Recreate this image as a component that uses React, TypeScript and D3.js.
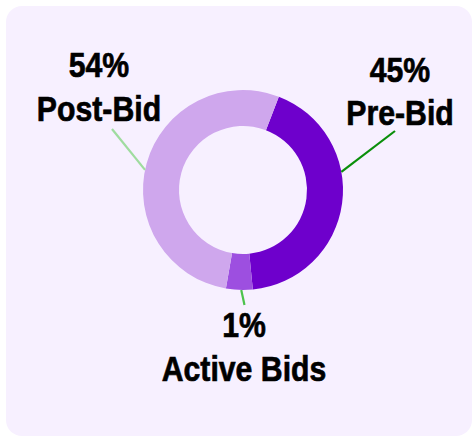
import React from "react";
import * as d3 from "d3";

const categories = ["Pre-Bid", "Active Bids", "Post-Bid"];
const percentLabels = ["45%", "1%", "54%"];
const values = [42.6, 4.3, 53.1];
const colors = ["#6e00cc", "#9d4fe0", "#cfa7ed"];
const leaderColors = ["#0a8f0a", "#4cc24c", "#9fdc9f"];

const W = 472;
const H = 436;
const cx = 243;
const cy = 190;
const outerR = 100;
const innerR = 64;
const startDeg = 21;

// label layout (relative to centre): leader start angle (deg), leader end, text centre
const labelLayout = [
  { angle: 79.6, end: [152, -59], text: [157, -108.5] },
  { angle: 181, end: [1.5, 115], text: [1, 147] },
  { angle: 281.6, end: [-131, -61], text: [-144, -113] },
];

export default function App() {
  const rad = (d: number) => (d * Math.PI) / 180;
  const pie = d3
    .pie<number>()
    .sort(null)
    .value((d) => d)
    .startAngle(rad(startDeg))
    .endAngle(rad(startDeg + 360));
  const arcs = pie(values);
  const arc = d3.arc<d3.PieArcDatum<number>>().innerRadius(innerR).outerRadius(outerR);
  const font = "'Liberation Sans', Arial, sans-serif";

  return (
    <svg width={W} height={H} style={{ position: "absolute", left: 0, top: 0 }}>
      <rect x={6} y={6} width={466} height={430} rx={16} fill="#f7f0ff" />
      <g transform={`translate(${cx},${cy})`}>
        {arcs.map((a, i) => (
          <path key={i} d={arc(a) || ""} fill={colors[i]} />
        ))}
        {labelLayout.map((l, i) => {
          const a = rad(l.angle);
          const x1 = Math.sin(a) * outerR;
          const y1 = -Math.cos(a) * outerR;
          return (
            <line
              key={"l" + i}
              x1={x1}
              y1={y1}
              x2={l.end[0]}
              y2={l.end[1]}
              stroke={leaderColors[i]}
              strokeWidth={2.2}
            />
          );
        })}
        {labelLayout.map((l, i) => (
          <text
            key={"t" + i}
            transform={`translate(${l.text[0]},${l.text[1]}) scale(0.84,1)`}
            textAnchor="middle"
            fontFamily={font}
            fontWeight="bold"
            fontSize={36}
            fill="#000"
            stroke="#000"
            strokeWidth={0.7}
          >
            <tspan x={0} dy={0}>{percentLabels[i]}</tspan>
            <tspan x={0} dy={44}>{categories[i]}</tspan>
          </text>
        ))}
      </g>
    </svg>
  );
}
